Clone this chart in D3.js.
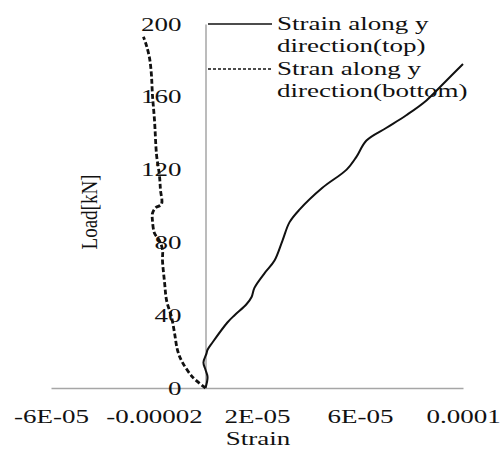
<!DOCTYPE html>
<html>
<head>
<meta charset="utf-8">
<script src="https://cdn.jsdelivr.net/npm/d3@7"></script>
<style>
  body { margin: 0; background: #fff; }
  text { font-family: "Liberation Serif", "Times New Roman", serif; fill: #111; }
</style>
</head>
<body>
<div id="chart"></div>
<script>
// strain along y, top gauge (strain, load kN)
const topStrain = [0, 0.08e-5, 0, -0.08e-5, 0.04e-5, 0.08e-5, 0.27e-5, 0.85e-5, 1.13e-5, 1.59e-5, 1.79e-5, 1.90e-5,
    2.29e-5, 2.68e-5, 2.99e-5, 3.26e-5, 3.65e-5, 4.54e-5, 5.48e-5, 5.86e-5, 6.25e-5, 7.03e-5, 7.81e-5, 8.58e-5, 9.36e-5, 1.0e-4]
const topLoad = [0, 6, 10, 14, 19, 21, 25, 36, 40, 46, 50, 55,
    63, 70, 81, 91, 98, 110, 120, 127, 136, 143, 150, 158, 169, 178]

// strain along y, bottom gauge
const botStrain = [0, -0.50e-5, -0.93e-5, -1.09e-5, -1.20e-5, -1.32e-5, -1.51e-5, -1.59e-5, -1.67e-5, -1.67e-5, -1.79e-5,
    -1.98e-5, -2.06e-5, -2.06e-5, -1.94e-5, -1.71e-5, -1.75e-5, -1.79e-5, -1.90e-5, -1.98e-5, -2.06e-5, -2.10e-5, -2.17e-5, -2.29e-5, -2.41e-5]
const botLoad = [0, 6, 15, 21, 30, 39, 48, 58, 70, 76, 81,
    85, 92, 96, 99, 101, 109, 117, 128, 147, 161, 172, 181, 188, 193]

const xTicks = [-6e-5, -2e-5, 2e-5, 6e-5, 1e-4]
const xTickLabels = ['-6E-05', '-0.00002', '2E-05', '6E-05', '0.0001']
const yTicks = [0, 40, 80, 120, 160, 200]
const seriesNames = [['Strain along y', 'direction(top)'], ['Stran along y', 'direction(bottom)']]

const width = 503, height = 450
const stretch = 'scale(1.5,1)'   // the source picture is squeezed wide

const svg = d3.select('#chart').append('svg')
    .attr('width', width)
    .attr('height', height)

const x = d3.scaleLinear().domain([-6e-5, 1e-4]).range([51, 463])
const y = d3.scaleLinear().domain([0, 200]).range([388, 24])

// x axis along load = 0
const xAxis = svg.append('g')
    .attr('transform', `translate(0, ${y(0)})`)
    .call(d3.axisBottom(x).tickValues(xTicks).tickSize(0).tickFormat((d, i) => xTickLabels[i]))
xAxis.select('.domain').attr('stroke', '#a6a6a6').attr('stroke-width', 1.5)
xAxis.selectAll('text')
    .attr('y', 0).attr('dy', null)
    .attr('transform', `translate(0, 35) ${stretch}`)
    .style('font-size', '18px')

// y axis at strain = 0
const yAxis = svg.append('g')
    .attr('transform', `translate(${x(0)}, 0)`)
    .call(d3.axisLeft(y).tickValues(yTicks).tickSize(0))
yAxis.select('.domain').attr('stroke', '#a6a6a6').attr('stroke-width', 1.5)
yAxis.selectAll('text')
    .attr('x', 0).attr('dy', null)
    .attr('transform', `translate(-24, 6) ${stretch}`)
    .style('font-size', '18px')
svg.selectAll('.tick text').attr('fill', '#111')

// titles
svg.append('text')
    .attr('transform', `translate(258, 445) ${stretch}`)
    .attr('text-anchor', 'middle')
    .style('font-size', '18px')
    .text('Strain')
svg.append('text')
    .attr('transform', 'translate(97, 212) rotate(-90) scale(1,1.2)')
    .attr('text-anchor', 'middle')
    .style('font-size', '19px')
    .text('Load[kN]')

// curves
const topPts = topStrain.map((s, i) => [x(s), y(topLoad[i])])
const botPts = botStrain.map((s, i) => [x(s), y(botLoad[i])])

svg.append('path')
    .attr('d', d3.line().curve(d3.curveCatmullRom)(botPts))
    .attr('fill', 'none')
    .attr('stroke', '#111')
    .attr('stroke-width', 2.8)
    .attr('stroke-dasharray', '5,2.5')

svg.append('path')
    .attr('d', d3.line().curve(d3.curveCatmullRom)(topPts))
    .attr('fill', 'none')
    .attr('stroke', '#111')
    .attr('stroke-width', 2)

// legend
const legend = svg.append('g')
const legendY = [24, 69]
seriesNames.forEach((lines, i) => {
    legend.append('line')
        .attr('x1', 208).attr('x2', 272)
        .attr('y1', legendY[i]).attr('y2', legendY[i])
        .attr('stroke', '#111')
        .attr('stroke-width', 1.5)
        .attr('stroke-dasharray', i == 1 ? '3,2' : null)
    lines.forEach((t, j) => {
        legend.append('text')
            .attr('transform', `translate(277, ${legendY[i] + 6 + j * 22}) ${stretch}`)
            .style('font-size', '18px')
            .text(t)
    })
})
</script>
</body>
</html>
